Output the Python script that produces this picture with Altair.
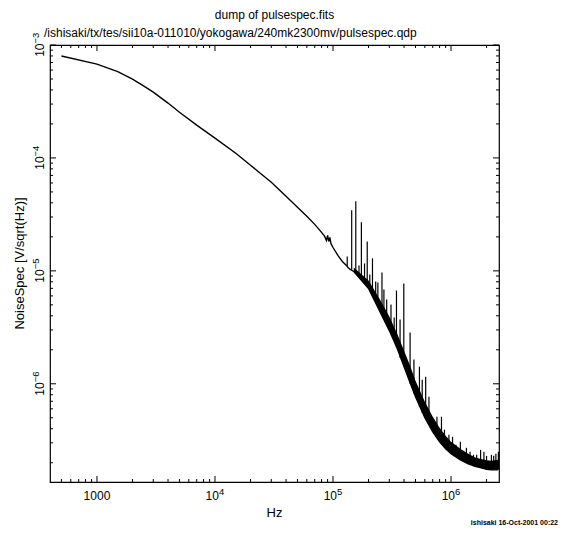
import altair as alt
import pandas as pd

# ---------------- data ----------------
# main noise curve (Hz, V/sqrt(Hz)); low-frequency part and lower edge of the noisy band
line_freq = [500, 1000, 1500, 2000, 2500, 3000, 4000, 5000, 7000, 10000, 15000, 20000,
             30000, 40000, 50000, 60000, 70000, 80000, 85000, 88000, 90000, 92000, 94000,
             96000, 100000, 110000, 120000, 130000, 134000, 140000, 150000, 200000, 250000,
             300000, 350000, 400000, 450000, 500000, 600000, 700000, 800000, 900000,
             1000000, 1200000, 1400000, 1600000, 1800000, 2000000, 2200000, 2500000]
line_val = [7.99e-4, 6.78e-4, 5.82e-4, 4.99e-4, 4.33e-4, 3.83e-4, 3.06e-4, 2.54e-4, 1.95e-4,
            1.496e-4, 1.101e-4, 8.61e-5, 6.09e-5, 4.57e-5, 3.65e-5, 3.04e-5, 2.58e-5, 2.19e-5,
            2.02e-5, 1.86e-5, 2.06e-5, 1.82e-5, 1.98e-5, 1.75e-5, 1.61e-5, 1.37e-5, 1.212e-5,
            1.117e-5, 1.072e-5, 1.029e-5, 9.88e-6, 6.98e-6, 4.36e-6, 2.96e-6, 2.05e-6, 1.418e-6,
            1.023e-6, 7.68e-7, 5.00e-7, 3.76e-7, 3.06e-7, 2.66e-7, 2.40e-7, 2.12e-7, 1.954e-7,
            1.857e-7, 1.80e-7, 1.746e-7, 1.73e-7, 1.73e-7]

# dense noise band at high frequency (lower / upper edge)
band_freq = [150000, 200000, 250000, 300000, 350000, 400000, 450000, 500000, 600000, 700000,
             800000, 900000, 1000000, 1200000, 1400000, 1600000, 1800000, 2000000, 2200000, 2500000]
band_low = [9.88e-6, 6.98e-6, 4.36e-6, 2.96e-6, 2.05e-6, 1.418e-6, 1.023e-6, 7.68e-7, 5.00e-7,
            3.76e-7, 3.06e-7, 2.66e-7, 2.40e-7, 2.12e-7, 1.954e-7, 1.857e-7, 1.80e-7, 1.746e-7,
            1.73e-7, 1.73e-7]
band_high = [1.072e-5, 8.22e-6, 5.57e-6, 3.94e-6, 2.78e-6, 1.966e-6, 1.447e-6, 1.065e-6, 6.94e-7,
             5.11e-7, 4.08e-7, 3.46e-7, 3.06e-7, 2.66e-7, 2.40e-7, 2.23e-7, 2.16e-7, 2.10e-7,
             2.08e-7, 2.12e-7]

# narrow spectral lines (spikes)
spike_freq = [132000, 144000, 156000, 166000, 174000, 185000, 195000, 205000, 216000, 230000,
              240000, 260000, 270000, 285000, 310000, 330000, 345000, 370000, 398000, 450000,
              485000, 540000, 570000, 610000, 650000, 720000, 760000, 830000, 880000, 960000,
              1030000, 1100000, 1200000, 1350000, 1450000, 1550000, 1650000, 1780000, 1900000,
              2000000, 2200000, 2300000, 2400000, 2520000]
spike_low = [1.10e-5, 1.03e-5, 1.01e-5, 9.5e-6, 9.0e-6, 8.0e-6, 7.3e-6, 6.7e-6, 6.1e-6, 5.4e-6,
             5.0e-6, 4.2e-6, 4.0e-6, 3.3e-6, 2.8e-6, 2.4e-6, 2.1e-6, 1.7e-6, 1.45e-6, 1.0e-6,
             8.2e-7, 6.3e-7, 5.5e-7, 4.9e-7, 4.4e-7, 3.6e-7, 3.4e-7, 2.95e-7, 2.75e-7, 2.5e-7,
             2.35e-7, 2.25e-7, 2.12e-7, 2.0e-7, 1.92e-7, 1.86e-7, 1.84e-7, 1.80e-7, 1.78e-7,
             1.75e-7, 1.73e-7, 1.73e-7, 1.73e-7, 1.73e-7]
spike_high = [1.342e-5, 3.44e-5, 4.13e-5, 1.117e-5, 2.69e-5, 1.163e-5, 1.82e-5, 9.29e-6, 1.29e-5,
              8.05e-6, 7.89e-6, 9.68e-6, 6.84e-6, 5.57e-6, 5.03e-6, 3.86e-6, 6.70e-6, 3.70e-6,
              7.73e-6, 2.84e-6, 1.64e-6, 1.418e-6, 1.087e-6, 1.156e-6, 7.68e-7, 4.8e-7, 5.11e-7,
              5.11e-7, 3.92e-7, 3.54e-7, 3.39e-7, 2.88e-7, 3.06e-7, 2.71e-7, 2.50e-7, 2.35e-7,
              2.35e-7, 2.60e-7, 2.50e-7, 2.30e-7, 2.35e-7, 2.30e-7, 2.40e-7, 2.50e-7]

# axis ticks and labels
x_major = [1000, 10000, 100000, 1000000]
x_label_base = ["1000", "10", "10", "10"]
x_label_exp = ["", "4", "5", "6"]
x_minor = [500, 600, 700, 800, 900, 2000, 3000, 4000, 5000, 6000, 7000, 8000, 9000,
           20000, 30000, 40000, 50000, 60000, 70000, 80000, 90000,
           200000, 300000, 400000, 500000, 600000, 700000, 800000, 900000, 2000000]
y_major = [1e-6, 1e-5, 1e-4, 1e-3]
y_label_base = ["10", "10", "10", "10"]
y_label_exp = ["\u22126", "\u22125", "\u22124", "\u22123"]
y_minor = [2e-7, 3e-7, 4e-7, 5e-7, 6e-7, 7e-7, 8e-7, 9e-7,
           2e-6, 3e-6, 4e-6, 5e-6, 6e-6, 7e-6, 8e-6, 9e-6,
           2e-5, 3e-5, 4e-5, 5e-5, 6e-5, 7e-5, 8e-5, 9e-5,
           2e-4, 3e-4, 4e-4, 5e-4, 6e-4, 7e-4, 8e-4, 9e-4]

title1 = "dump of pulsespec.fits"
title2 = "/ishisaki/tx/tes/sii10a-011010/yokogawa/240mk2300mv/pulsespec.qdp"
footer = "ishisaki 16-Oct-2001 00:22"
x_title = "Hz"
y_title = "NoiseSpec  [V/sqrt(Hz)]"

# ---------------- chart ----------------
W, H = 449, 437
FONT = "Liberation Sans"
MAJ, MIN = 6, 3
BASE_FS, EXP_FS = 12, 9.5

xs = alt.Scale(type="log", domain=[400, 2.55e6], nice=False)
ys = alt.Scale(type="log", domain=[1.35e-7, 1.0e-3], nice=False)


def X(field):
    return alt.X(field, scale=xs, axis=None)


def Y(field):
    return alt.Y(field, scale=ys, axis=None)


line_df = pd.DataFrame({"f": line_freq, "v": line_val})
band_df = pd.DataFrame({"f": band_freq, "lo": band_low, "hi": band_high})
spike_df = pd.DataFrame({"f": spike_freq, "lo": spike_low, "hi": spike_high})

line = alt.Chart(line_df).mark_line(color="black", strokeWidth=1.4, clip=True).encode(
    x=X("f:Q"), y=Y("v:Q"),
)
band = alt.Chart(band_df).mark_area(color="black", opacity=1, clip=True).encode(
    x=X("f:Q"), y=Y("lo:Q"), y2="hi:Q",
)
spikes = alt.Chart(spike_df).mark_rule(color="black", strokeWidth=1.2, clip=True).encode(
    x=X("f:Q"), y=Y("lo:Q"), y2="hi:Q",
)


def xticks(vals, length):
    d = pd.DataFrame({"f": vals})
    b = alt.Chart(d).mark_rule(color="black", strokeWidth=1)
    bottom = b.encode(x=X("f:Q"), y=alt.value(H), y2=alt.value(H - length))
    top = b.encode(x=X("f:Q"), y=alt.value(0), y2=alt.value(length))
    return [bottom, top]


def yticks(vals, length):
    d = pd.DataFrame({"v": vals})
    b = alt.Chart(d).mark_rule(color="black", strokeWidth=1)
    left = b.encode(y=Y("v:Q"), x=alt.value(0), x2=alt.value(length))
    right = b.encode(y=Y("v:Q"), x=alt.value(W), x2=alt.value(W - length))
    return [left, right]


def text(t, x, y, size, align="center", weight="normal", angle=0, baseline="alphabetic"):
    return alt.Chart(pd.DataFrame({"t": [t]})).mark_text(
        font=FONT, fontSize=size, align=align, baseline=baseline, color="black",
        fontWeight=weight, angle=angle
    ).encode(text="t:N", x=alt.value(x), y=alt.value(y))


# x tick labels: plain and base/exponent pairs
xl = pd.DataFrame({"f": x_major, "base": x_label_base, "exp": x_label_exp})
xl_plain = xl[xl["exp"] == ""]
xl_pow = xl[xl["exp"] != ""]
x_lab_y = H + 18
x_plain = alt.Chart(xl_plain).mark_text(font=FONT, fontSize=BASE_FS, align="center",
                                        baseline="alphabetic", color="black").encode(
    x=X("f:Q"), y=alt.value(x_lab_y), text="base:N")
x_base = alt.Chart(xl_pow).mark_text(font=FONT, fontSize=BASE_FS, align="right",
                                     baseline="alphabetic", color="black", dx=4).encode(
    x=X("f:Q"), y=alt.value(x_lab_y), text="base:N")
x_exp = alt.Chart(xl_pow).mark_text(font=FONT, fontSize=EXP_FS, align="left",
                                    baseline="alphabetic", color="black", dx=4, dy=-5).encode(
    x=X("f:Q"), y=alt.value(x_lab_y), text="exp:N")

# y tick labels, rotated (reading upward); dx/dy act in the rotated text frame
yl = pd.DataFrame({"v": y_major, "base": y_label_base, "exp": y_label_exp})
y_lab_x = -6
y_base = alt.Chart(yl).mark_text(font=FONT, fontSize=BASE_FS, align="right", angle=270,
                                 baseline="alphabetic", color="black", dx=1.5).encode(
    y=Y("v:Q"), x=alt.value(y_lab_x), text="base:N")
y_exp = alt.Chart(yl).mark_text(font=FONT, fontSize=EXP_FS, align="left", angle=270,
                                baseline="alphabetic", color="black", dx=1.5, dy=-5).encode(
    y=Y("v:Q"), x=alt.value(y_lab_x), text="exp:N")

layers = [line, band, spikes]
layers += xticks(x_major, MAJ) + xticks(x_minor, MIN)
layers += yticks(y_major, MAJ) + yticks(y_minor, MIN)
layers += [x_plain, x_base, x_exp, y_base, y_exp]
layers += [
    text(title1, W / 2, -26, 12),
    text(title2, -6, -8, 12, align="left"),
    text(footer, 508, 480, 7, align="right", weight="bold"),
    text(x_title, W / 2, H + 35, 13),
    text(y_title, -30, H / 2, 13, angle=270, baseline="middle"),
]

chart = alt.layer(*layers).properties(
    width=W, height=H,
    autosize=alt.AutoSizeParams(type="none"),
    padding={"left": 50, "top": 45, "right": 65, "bottom": 55},
    background="white",
).configure_view(stroke="black", strokeWidth=1.2)

chart.save("out.html", embed_options={"renderer": "svg", "actions": False})
